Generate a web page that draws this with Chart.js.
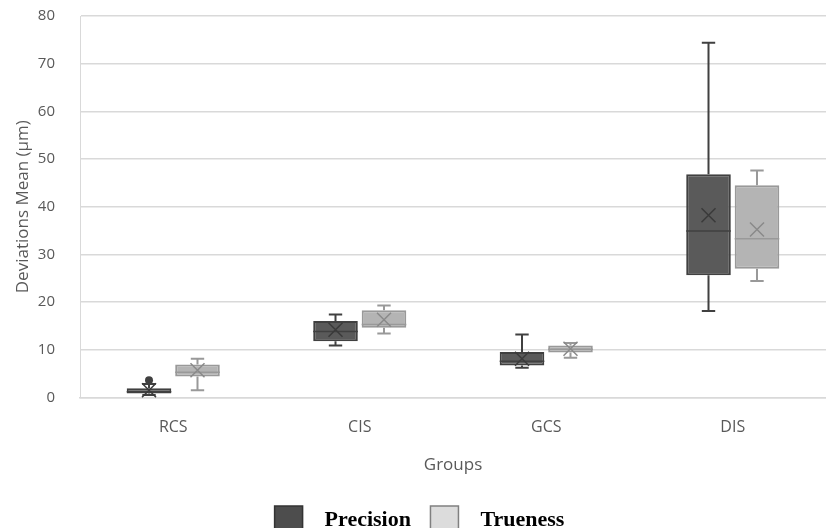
<!DOCTYPE html>
<html>
<head>
<meta charset="utf-8">
<script src="https://cdn.jsdelivr.net/npm/chart.js@4"></script>
<style>
  html, body { margin: 0; padding: 0; background: #fff; overflow: hidden; }
  #wrap { width: 826px; height: 544px; position: relative; }
</style>
</head>
<body>
<div id="wrap"><canvas id="chart"></canvas></div>
<script>
const groups = ['RCS', 'CIS', 'GCS', 'DIS'];
const yTicks = [0, 10, 20, 30, 40, 50, 60, 70, 80];

// Precision box stats
const precisionMin = [0.5, 10.9, 6.2, 18.1];
const precisionQ1 = [0.8, 11.8, 6.7, 25.6];
const precisionMedian = [1.2, 13.8, 7.6, 34.9];
const precisionQ3 = [1.9, 16.0, 9.5, 46.8];
const precisionMax = [2.8, 17.4, 13.2, 74.4];
const precisionMean = [1.5, 14.2, 8.1, 38.2];
const precisionOutliers = [[3.6], [], [], []];

// Trueness box stats
const truenessMin = [1.5, 13.4, 8.3, 24.4];
const truenessQ1 = [4.4, 14.6, 9.4, 27.0];
const truenessMedian = [5.3, 15.3, 10.1, 33.3];
const truenessQ3 = [6.9, 18.3, 10.9, 44.5];
const truenessMax = [8.1, 19.3, 11.4, 47.6];
const truenessMean = [5.7, 16.3, 10.2, 35.2];
const truenessOutliers = [[], [], [], []];

const stats = [
  { min: precisionMin, med: precisionMedian, max: precisionMax, mean: precisionMean, out: precisionOutliers, line: '#404040' },
  { min: truenessMin, med: truenessMedian, max: truenessMax, mean: truenessMean, out: truenessOutliers, line: '#999999' }
];

// whiskers, medians, mean marks and outliers on top of the floating bars
const boxExtras = {
  id: 'boxExtras',
  afterDatasetsDraw(chart) {
    const ctx = chart.ctx;
    const y = chart.scales.y;
    stats.forEach((s, i) => {
      const meta = chart.getDatasetMeta(i);
      const ds = chart.data.datasets[i];
      meta.data.forEach((bar, j) => {
        const x = bar.x;
        const w = bar.width;
        const cap = w * 0.15;
        const q1 = ds.data[j][0], q3 = ds.data[j][1];
        ctx.save();
        ctx.strokeStyle = s.line;
        ctx.lineWidth = 2;
        ctx.beginPath();
        // upper whisker
        ctx.moveTo(x, y.getPixelForValue(q3));
        ctx.lineTo(x, y.getPixelForValue(s.max[j]));
        ctx.moveTo(x - cap, y.getPixelForValue(s.max[j]));
        ctx.lineTo(x + cap, y.getPixelForValue(s.max[j]));
        // lower whisker
        ctx.moveTo(x, y.getPixelForValue(q1));
        ctx.lineTo(x, y.getPixelForValue(s.min[j]));
        ctx.moveTo(x - cap, y.getPixelForValue(s.min[j]));
        ctx.lineTo(x + cap, y.getPixelForValue(s.min[j]));
        ctx.stroke();
        // median
        ctx.lineWidth = 1.5;
        ctx.beginPath();
        ctx.moveTo(x - w / 2, y.getPixelForValue(s.med[j]));
        ctx.lineTo(x + w / 2, y.getPixelForValue(s.med[j]));
        ctx.stroke();
        // mean X
        const my = y.getPixelForValue(s.mean[j]);
        ctx.lineWidth = 1.5;
        ctx.strokeStyle = i === 0 ? '#3a3a3a' : '#8a8a8a';
        ctx.beginPath();
        ctx.moveTo(x - 7, my - 7);
        ctx.lineTo(x + 7, my + 7);
        ctx.moveTo(x + 7, my - 7);
        ctx.lineTo(x - 7, my + 7);
        ctx.stroke();
        // outliers
        ctx.fillStyle = s.line;
        s.out[j].forEach(v => {
          ctx.beginPath();
          ctx.arc(x, y.getPixelForValue(v), 4, 0, Math.PI * 2);
          ctx.fill();
        });
        ctx.restore();
      });
    });
  }
};

new Chart(document.getElementById('chart'), {
  type: 'bar',
  data: {
    labels: groups,
    datasets: [{
      label: 'Precision',
      data: precisionQ1.map((v, i) => [v, precisionQ3[i]]),
      backgroundColor: '#5a5a5a',
      borderColor: '#404040',
      borderWidth: 2,
      borderSkipped: false,
      categoryPercentage: 0.52,
      barPercentage: 0.92
    }, {
      label: 'Trueness',
      data: truenessQ1.map((v, i) => [v, truenessQ3[i]]),
      backgroundColor: '#b4b4b4',
      borderColor: '#999999',
      borderWidth: 2,
      borderSkipped: false,
      categoryPercentage: 0.52,
      barPercentage: 0.92
    }]
  },
  options: {
    responsive: true,
    maintainAspectRatio: false,
    animation: false,
    layout: { autoPadding: false, padding: { top: 16, right: 0, left: 13, bottom: 0 } },
    plugins: {
      tooltip: { enabled: false },
      legend: {
        position: 'bottom',
        labels: {
          boxWidth: 28,
          boxHeight: 28,
          padding: 14,
          color: '#000',
          font: { family: 'Liberation Serif', size: 22, weight: 'bold' },
          generateLabels: () => [
            { text: '  Precision ', fillStyle: '#4d4d4d', strokeStyle: '#333333', lineWidth: 1.5, fontColor: '#000' },
            { text: '  Trueness', fillStyle: '#dcdcdc', strokeStyle: '#808080', lineWidth: 1.5, fontColor: '#000' }
          ]
        }
      }
    },
    scales: {
      x: {
        grid: { display: false },
        border: { color: '#d9d9d9', width: 1.5 },
        ticks: { color: '#595959', padding: 12, font: { family: 'Open Sans', size: 16 } },
        title: { display: true, text: 'Groups', color: '#595959', padding: { top: 6, bottom: 17 }, font: { family: 'Open Sans', size: 17 } }
      },
      y: {
        min: 0,
        max: 80,
        afterBuildTicks: axis => { axis.ticks = yTicks.map(v => ({ value: v })); },
        afterFit: axis => {
          axis.width = 67;
          axis.paddingTop = 8;
          axis.paddingBottom = 8;
        },
        grid: { color: '#d9d9d9', lineWidth: 1.5, drawTicks: false },
        border: { display: true, color: '#d9d9d9' },
        ticks: { color: '#595959', padding: 25, font: { family: 'Open Sans', size: 15 } },
        title: { display: true, text: 'Deviations Mean (µm)', color: '#595959', padding: { top: 0, bottom: 0 }, font: { family: 'Open Sans', size: 17 } }
      }
    }
  },
  plugins: [boxExtras]
});
</script>
</body>
</html>
